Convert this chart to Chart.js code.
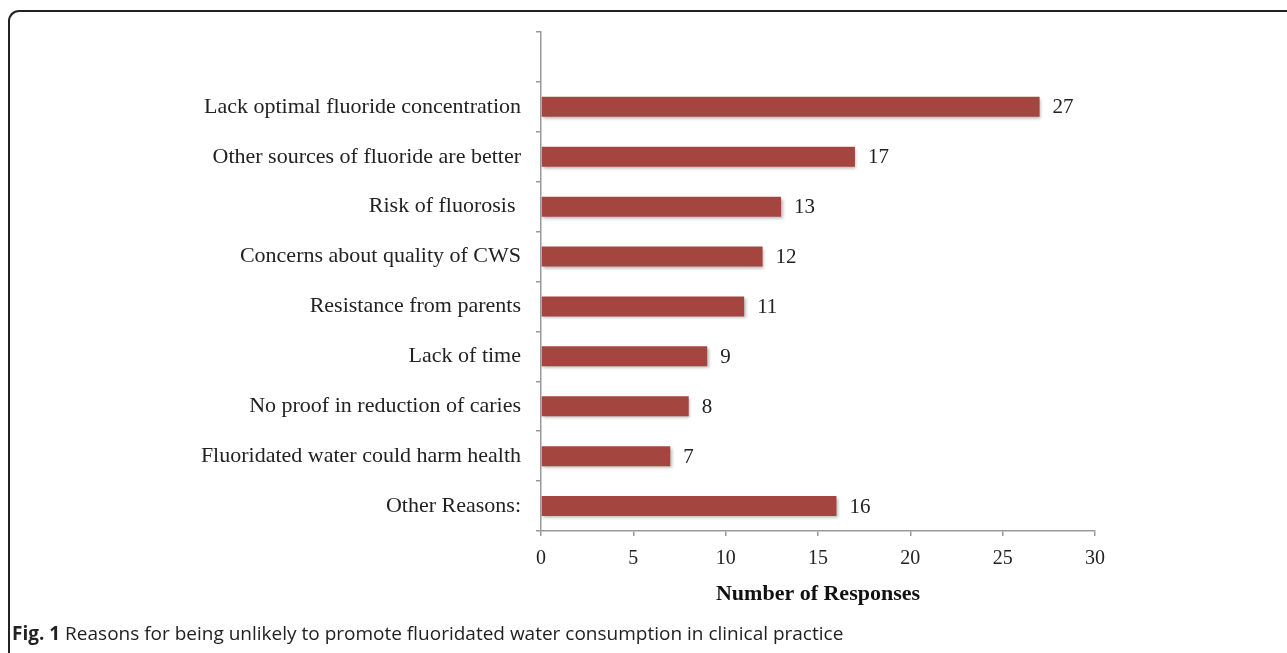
<!DOCTYPE html>
<html>
<head>
<meta charset="utf-8">
<script src="https://cdn.jsdelivr.net/npm/chart.js@4.4.1/dist/chart.umd.min.js"></script>
<style>
  html, body { margin:0; padding:0; background:#fff; width:1287px; height:653px; overflow:hidden; }
  #frame { position:absolute; left:8px; top:10px; width:1400px; height:800px;
           border-left:2px solid #222; border-top:2px solid #222; border-top-left-radius:11px; box-sizing:border-box; }
  #wrap { position:absolute; left:0; top:0; width:1287px; height:653px; }
  #caption { position:absolute; left:12px; top:620px; font-family:"Open Sans", sans-serif; font-size:19px;
             color:#222; white-space:nowrap; letter-spacing:0px; }
  #caption b { font-weight:700; }
</style>
</head>
<body>
<div id="frame"></div>
<div id="wrap"><canvas id="c" width="1287" height="653"></canvas></div>
<div id="caption"><b>Fig. 1</b> Reasons for being unlikely to promote fluoridated water consumption in clinical practice</div>
<script>
const categories = ['', 'Lack optimal fluoride concentration', 'Other sources of fluoride are better', 'Risk of fluorosis ',
  'Concerns about quality of CWS', 'Resistance from parents', 'Lack of time', 'No proof in reduction of caries',
  'Fluoridated water could harm health', 'Other Reasons:'];
const responses = [null, 27, 17, 13, 12, 11, 9, 8, 7, 16];
const xTicks = [0, 5, 10, 15, 20, 25, 30];
const axisTitle = 'Number of Responses';

const serif = '"Liberation Serif", "Times New Roman", serif';

const valueLabels = {
  id: 'valueLabels',
  afterDatasetsDraw(chart) {
    const ctx = chart.ctx;
    const meta = chart.getDatasetMeta(0);
    ctx.save();
    ctx.font = '21px ' + serif;
    ctx.fillStyle = '#222';
    ctx.textAlign = 'left';
    ctx.textBaseline = 'middle';
    meta.data.forEach((bar, i) => {
      const v = chart.data.datasets[0].data[i];
      if (v === null || v === undefined) return;
      ctx.fillText(String(v), bar.x + 13, bar.y + 1);
    });
    ctx.restore();
  }
};
const barShadow = {
  id: 'barShadow',
  beforeDatasetDraw(chart) {
    const ctx = chart.ctx;
    ctx.save();
    ctx.shadowColor = 'rgba(0,0,0,0.28)';
    ctx.shadowBlur = 3;
    ctx.shadowOffsetX = 1.5;
    ctx.shadowOffsetY = 2;
  },
  afterDatasetDraw(chart) { chart.ctx.restore(); }
};

new Chart(document.getElementById('c'), {
  type: 'bar',
  data: {
    labels: categories,
    datasets: [{ data: responses, backgroundColor: '#a4463f', borderWidth: 0,
                 barPercentage: 0.4, categoryPercentage: 1.0 }]
  },
  options: {
    indexAxis: 'y',
    responsive: false,
    animation: false,
    events: [],
    layout: { padding: { left: 0, top: 32, right: 192, bottom: 45 } },
    plugins: { legend: { display: false }, tooltip: { enabled: false } },
    scales: {
      x: {
        min: 0, max: 30,
        afterBuildTicks(scale) { scale.ticks = xTicks.map(v => ({ value: v })); },
        afterFit(scale) { scale.height = 77; },
        grid: { drawOnChartArea: false, drawTicks: true, tickLength: 5, color: '#999', lineWidth: 1.5 },
        border: { display: true, color: '#999', width: 1.5 },
        ticks: { font: { family: serif, size: 20 }, color: '#222', padding: 11 },
        title: { display: true, text: axisTitle, font: { family: serif, size: 22, weight: 'bold' }, color: '#111',
                 padding: { top: 10, bottom: 0 } }
      },
      y: {
        afterFit(scale) { scale.width = 541; },
        grid: { drawOnChartArea: false, drawTicks: true, tickLength: 5, color: '#999', lineWidth: 1.5, offset: true },
        border: { display: true, color: '#999', width: 1.5 },
        ticks: { font: { family: serif, size: 22 }, color: '#222', padding: 15 }
      }
    }
  },
  plugins: [barShadow, valueLabels]
});
</script>
</body>
</html>
